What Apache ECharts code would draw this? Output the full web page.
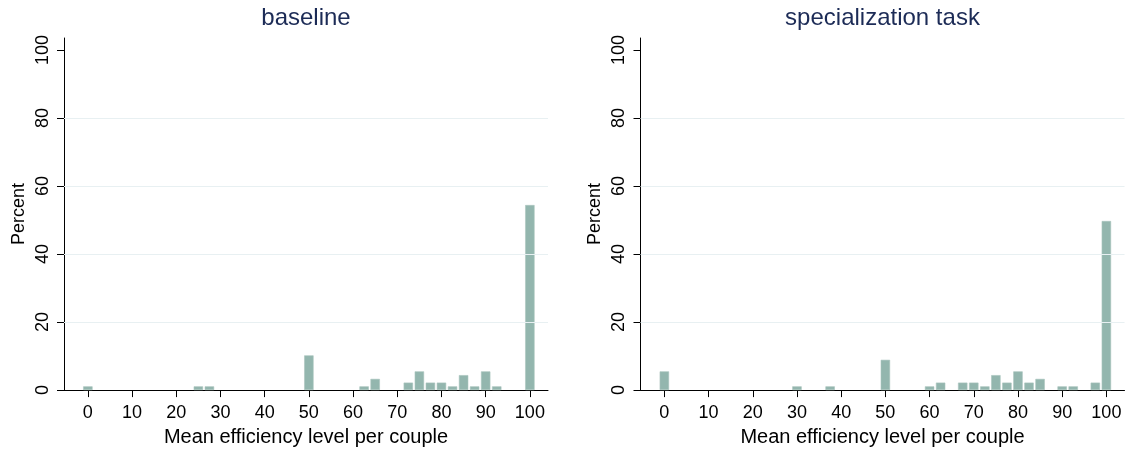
<!DOCTYPE html>
<html>
<head>
<meta charset="utf-8">
<script src="https://cdn.jsdelivr.net/npm/echarts@6/dist/echarts.min.js"></script>
<style>
html,body{margin:0;padding:0;background:#fff;}
#c{width:1130px;height:452px;}
</style>
</head>
<body>
<div id="c"></div>
<script>
// ---- data ----
const titles = ["baseline", "specialization task"];
const binsBaseline = [0, 25, 27.5, 50, 62.5, 65, 72.5, 75, 77.5, 80, 82.5, 85, 87.5, 90, 92.5, 100];
const pctBaseline  = [1.1, 1.1, 1.1, 10.2, 1.1, 3.3, 2.2, 5.5, 2.2, 2.2, 1.1, 4.4, 1.1, 5.5, 1.1, 54.4];
const binsSpec = [0, 30, 37.5, 50, 60, 62.5, 67.5, 70, 72.5, 75, 77.5, 80, 82.5, 85, 90, 92.5, 97.5, 100];
const pctSpec  = [5.5, 1.1, 1.1, 8.9, 1.1, 2.2, 2.2, 2.2, 1.1, 4.4, 2.2, 5.5, 2.2, 3.3, 1.1, 1.1, 2.2, 49.7];
const xTicks = [0, 10, 20, 30, 40, 50, 60, 70, 80, 90, 100];
const yTicks = [0, 20, 40, 60, 80, 100];
const gridTicks = [20, 40, 60, 80];
const xTitle = "Mean efficiency level per couple";
const yTitle = "Percent";

const FONT = '"Liberation Sans", Helvetica, Arial, sans-serif';
const BAR = '#93b6ae';
const panels = [
  {bins: binsBaseline, pct: pctBaseline, left: 64},
  {bins: binsSpec, pct: pctSpec, left: 640.5}
];

const grid = [], xAxis = [], yAxis = [], series = [], title = [];
panels.forEach((p, i) => {
  grid.push({left: p.left, top: 38, width: 484, height: 353, containLabel: false});
  title.push({
    text: titles[i], left: p.left + 237, top: 1, textAlign: 'center',
    textStyle: {fontFamily: FONT, fontSize: 24, fontWeight: 'normal', color: '#1c2b56'}
  });
  xAxis.push({
    type: 'value', gridIndex: i, min: -5.4, max: 104.1,
    name: xTitle, nameLocation: 'middle', nameGap: 33,
    nameTextStyle: {fontFamily: FONT, fontSize: 20, color: '#000'},
    axisLine: {show: true, onZero: false, lineStyle: {color: '#000', width: 1}},
    axisTick: {show: true, length: 7, lineStyle: {color: '#000'}, customValues: xTicks},
    axisLabel: {fontFamily: FONT, fontSize: 18, color: '#000', margin: 14, customValues: xTicks},
    splitLine: {show: false}
  });
  yAxis.push({
    type: 'value', gridIndex: i, min: 0, max: 103.5,
    name: yTitle, nameLocation: 'middle', nameGap: 36,
    nameTextStyle: {fontFamily: FONT, fontSize: 18, color: '#000'},
    axisLine: {show: true, onZero: false, lineStyle: {color: '#000', width: 1}},
    axisTick: {show: true, length: 7, lineStyle: {color: '#000'}, customValues: yTicks},
    axisLabel: {fontFamily: FONT, fontSize: 18, color: '#000', margin: 21, rotate: 90,
                verticalAlign: 'middle', customValues: yTicks},
    splitLine: {show: false}
  });
  series.push({
    type: 'bar', xAxisIndex: i, yAxisIndex: i,
    data: p.bins.map((b, k) => [b, p.pct[k]]),
    barWidth: 9.4,
    itemStyle: {color: BAR, borderColor: '#a9c5be', borderWidth: 0.6},
    silent: true,
    markLine: {
      silent: true, symbol: 'none', label: {show: false},
      lineStyle: {color: '#e8f0f2', width: 1.2, type: 'solid'},
      data: gridTicks.map(v => ({yAxis: v}))
    },
    z: 3
  });
});

const chart = echarts.init(document.getElementById('c'), null, {renderer: 'canvas'});
chart.setOption({
  animation: false,
  backgroundColor: '#fff',
  title, grid, xAxis, yAxis, series
});
</script>
</body>
</html>
